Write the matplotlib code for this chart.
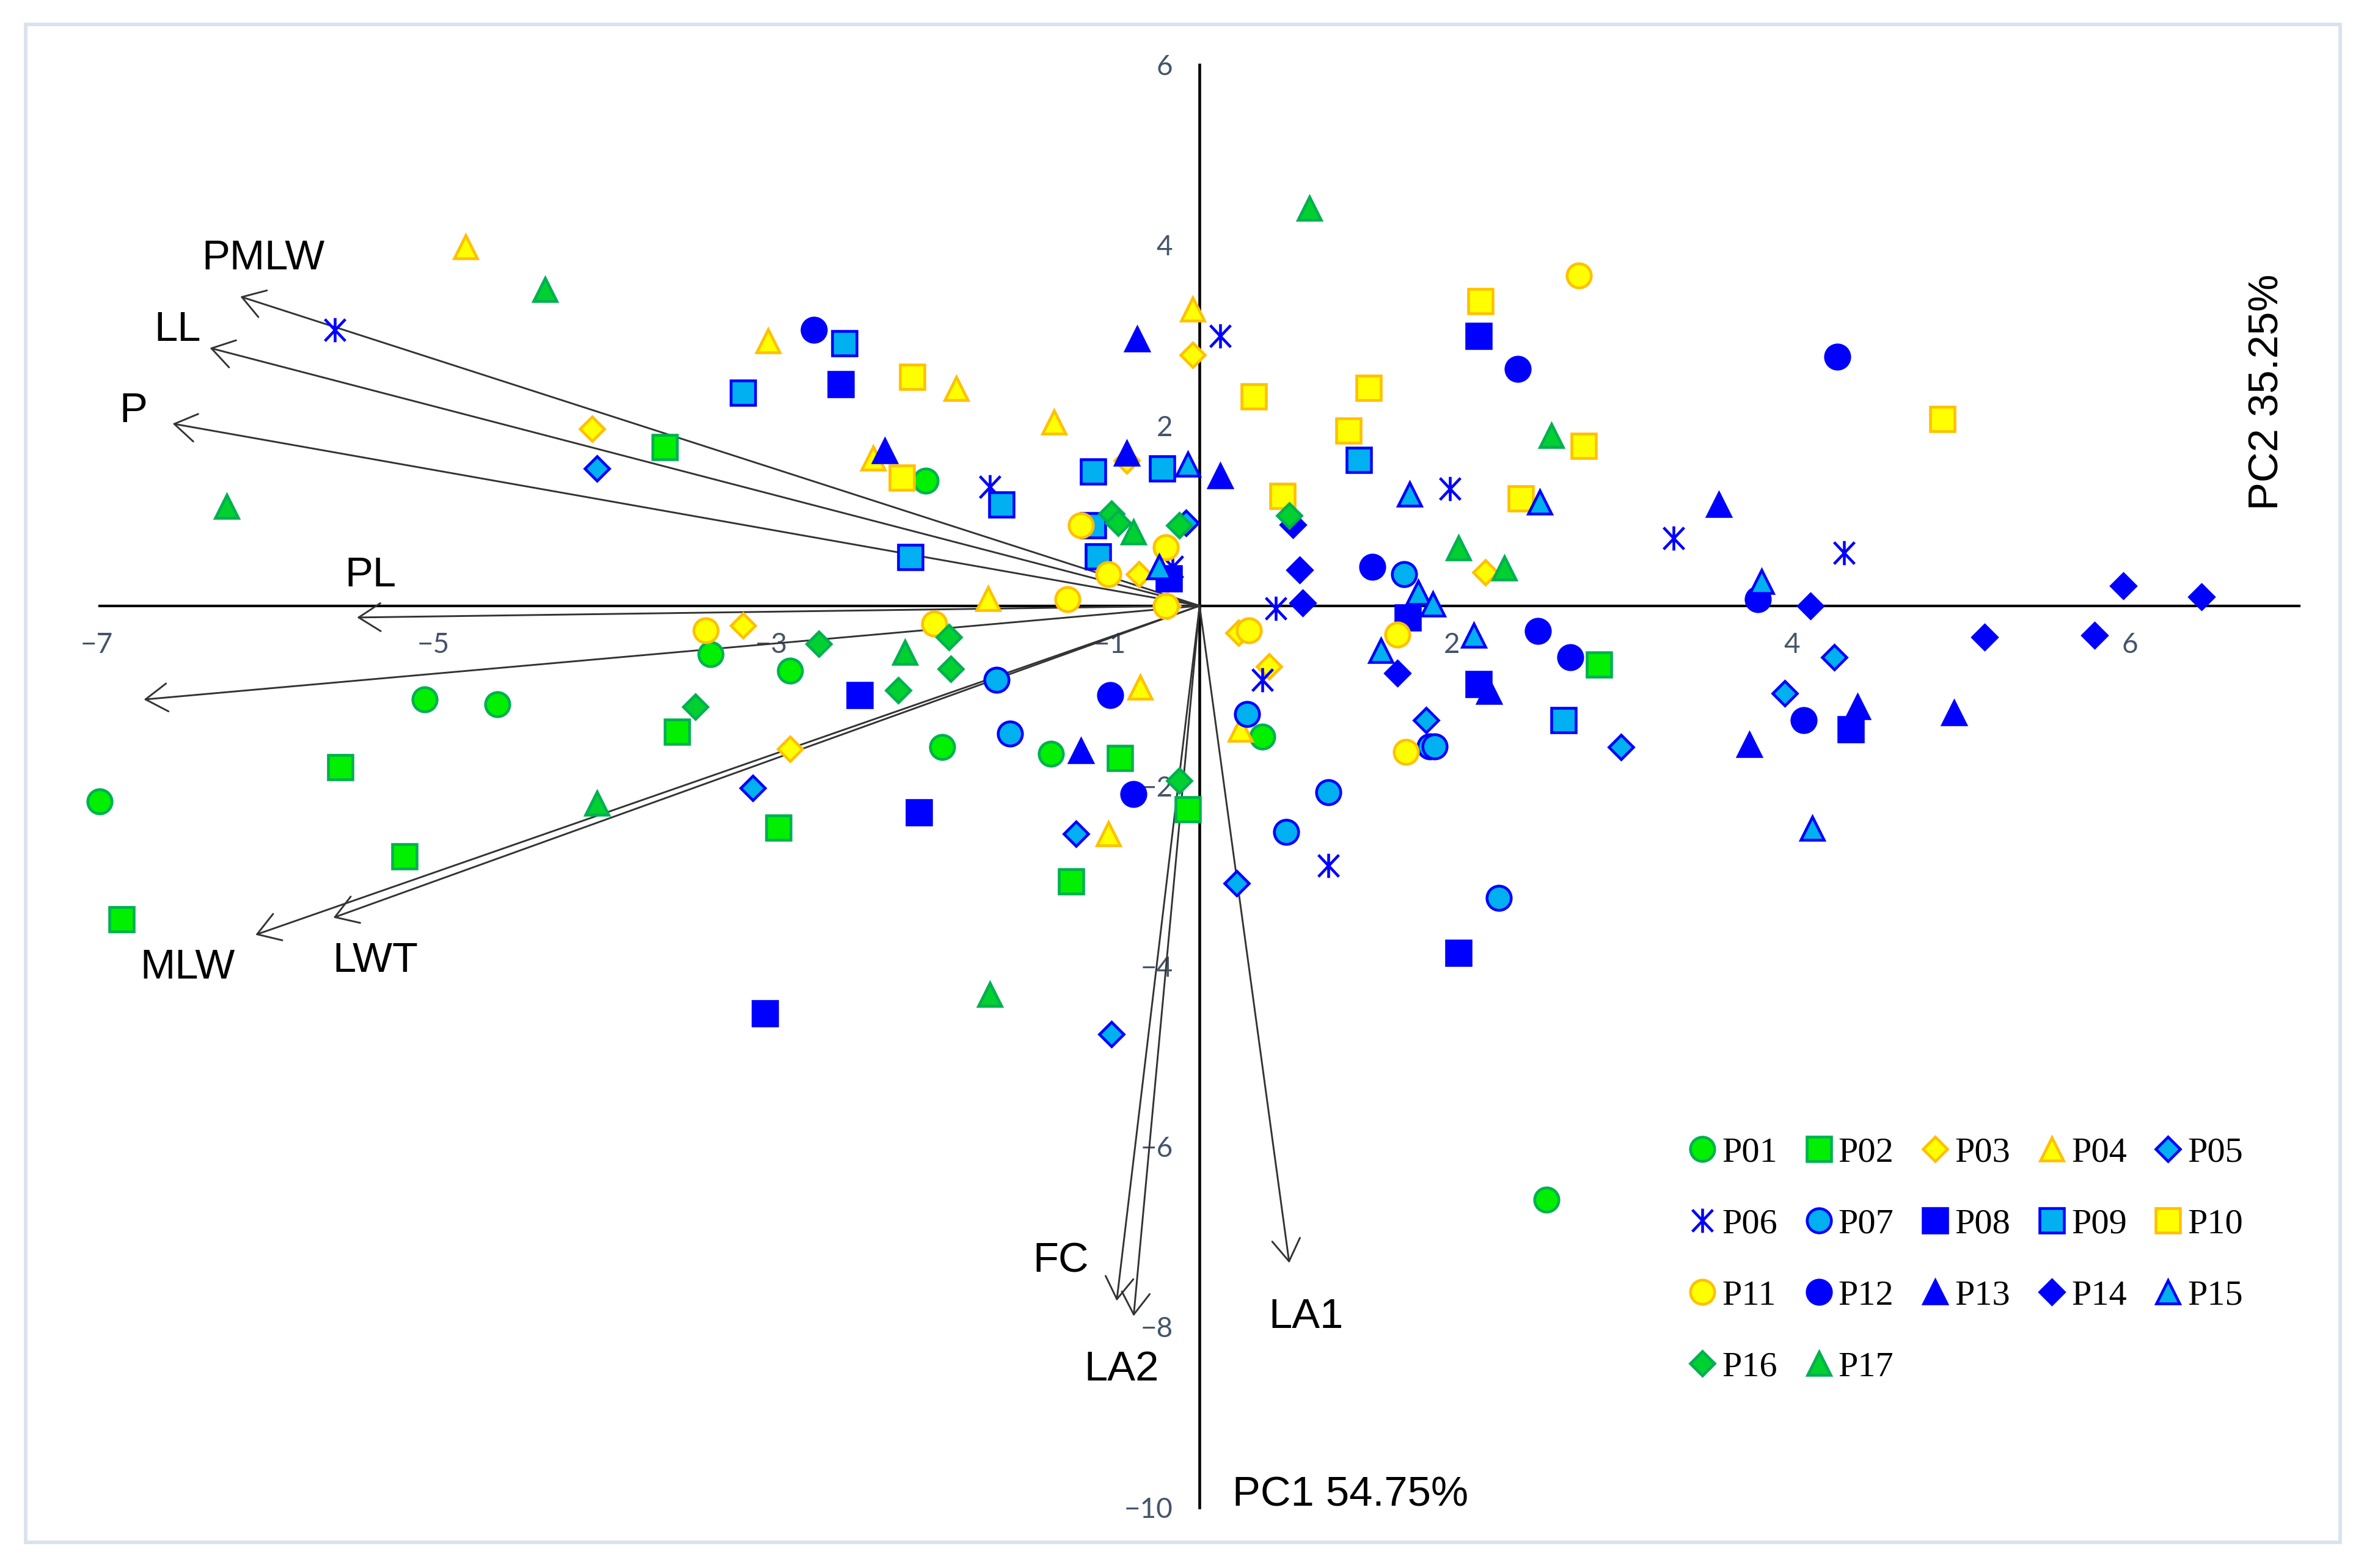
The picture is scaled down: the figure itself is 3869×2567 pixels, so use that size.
#!/usr/bin/env python3
import matplotlib

matplotlib.use("Agg")
import matplotlib.pyplot as plt
from matplotlib.patches import Rectangle
from matplotlib.path import Path

# scores, one x and one y list per group
P01_X = [-1.62, -4.58, -4.15, -6.50, -2.89, -2.42, -1.52, -0.88, 0.37, 2.05]
P01_Y = [1.39, -1.04, -1.09, -2.17, -0.54, -0.72, -1.57, -1.64, -1.45, -6.59]
P02_X = [-3.16, -5.08, -4.70, -6.37, -3.09, -2.49, -0.47, -0.07, -0.76, 2.36]
P02_Y = [1.76, -1.79, -2.78, -3.48, -1.40, -2.46, -1.69, -2.26, -3.06, -0.65]
P03_X = [-3.59, -0.04, -0.43, -0.36, -0.19, -2.70, -2.42, 0.23, 0.41, 1.69]
P03_Y = [1.96, 2.78, 1.61, 0.35, 0.00, -0.22, -1.59, -0.30, -0.67, 0.37]
P04_X = [-4.34, -2.55, -1.44, -0.86, -1.93, -0.04, -1.25, -0.35, 0.24, -0.54]
P04_Y = [3.98, 2.94, 2.41, 2.04, 1.64, 3.29, 0.08, -0.90, -1.37, -2.53]
P05_X = [-3.56, -0.08, -2.64, -0.73, 0.22, -0.52, 1.34, 2.49, 3.46, 3.75]
P05_Y = [1.52, 0.92, -2.02, -2.53, -3.08, -4.75, -1.27, -1.57, -0.97, -0.57]
P06_X = [-5.11, 0.12, -1.24, 1.48, 2.80, 3.81, 0.45, 0.37, 0.76, -0.16]
P06_Y = [3.06, 2.99, 1.32, 1.30, 0.75, 0.59, -0.03, -0.82, -2.88, 0.43]
P07_X = [-1.20, -1.12, 0.28, 0.51, 0.76, 1.21, 1.36, 1.39, 1.77]
P07_Y = [-0.82, -1.42, -1.20, -2.51, -2.07, 0.35, -1.56, -1.56, -3.24]
P08_X = [-2.12, -2.01, -1.66, -2.57, -0.18, 1.65, 1.23, 1.65, 1.53, 3.85]
P08_Y = [2.46, -0.99, -2.29, -4.52, 0.30, 2.99, -0.13, -0.87, -3.85, -1.37]
P09_X = [-2.70, -2.10, -0.63, -0.22, -1.17, -1.71, -0.63, -0.60, 0.94, 2.15]
P09_Y = [2.36, 2.91, 1.49, 1.52, 1.12, 0.54, 0.89, 0.55, 1.62, -1.27]
P10_X = [-1.70, -1.76, 0.32, 1.00, 0.88, 1.66, 2.27, 0.49, 1.90, 4.39]
P10_Y = [2.54, 1.42, 2.32, 2.42, 1.94, 3.38, 1.77, 1.22, 1.19, 2.07]
P11_X = [2.24, -0.70, -0.20, -0.54, -0.78, -1.57, -2.92, 0.29, 1.17, 1.22, -0.20]
P11_Y = [3.66, 0.89, 0.65, 0.35, 0.07, -0.20, -0.27, -0.27, -0.32, -1.62, 0.00]
P12_X = [-2.28, 1.88, 3.77, 1.02, 3.30, 2.00, 2.19, -0.53, -0.39, 3.57]
P12_Y = [3.06, 2.63, 2.76, 0.43, 0.07, -0.28, -0.57, -0.99, -2.09, -1.27]
P13_X = [-0.37, -1.86, -0.43, 0.12, 3.07, 3.25, 3.89, 4.46, -0.70, 1.71]
P13_Y = [2.96, 1.72, 1.69, 1.44, 1.12, -1.54, -1.12, -1.19, -1.61, -0.95]
P14_X = [0.55, 0.59, 0.61, 3.61, 5.46, 5.92, 4.64, 5.29, 1.17]
P14_Y = [0.90, 0.40, 0.03, 0.00, 0.22, 0.10, -0.35, -0.33, -0.75]
P15_X = [-0.07, 1.24, 2.01, 3.32, -0.24, 1.29, 1.38, 1.62, 1.07, 3.62]
P15_Y = [1.57, 1.24, 1.15, 0.27, 0.43, 0.15, 0.02, -0.33, -0.50, -2.47]
P16_X = [-0.52, -0.48, -0.12, 0.53, -2.25, -1.48, -1.47, -1.78, -2.98, -0.12]
P16_Y = [1.02, 0.92, 0.89, 1.00, -0.42, -0.35, -0.70, -0.94, -1.12, -1.94]
P17_X = [0.65, -3.87, -5.75, 2.08, 1.53, 1.80, -0.39, -1.74, -3.56, -1.24]
P17_Y = [4.41, 3.51, 1.10, 1.89, 0.64, 0.42, 0.82, -0.52, -2.19, -4.31]

GROUPS = [f"P{i:02d}" for i in range(1, 18)]
GROUP_X = [P01_X, P02_X, P03_X, P04_X, P05_X, P06_X, P07_X, P08_X, P09_X,
           P10_X, P11_X, P12_X, P13_X, P14_X, P15_X, P16_X, P17_X]
GROUP_Y = [P01_Y, P02_Y, P03_Y, P04_Y, P05_Y, P06_Y, P07_Y, P08_Y, P09_Y,
           P10_Y, P11_Y, P12_Y, P13_Y, P14_Y, P15_Y, P16_Y, P17_Y]

# loadings
LOAD_X = [-5.67, -5.85, -6.07, -4.98, -6.24, -5.58, -5.12, -0.49, -0.39, 0.53]
LOAD_Y = [3.43, 2.86, 2.02, -0.13, -1.04, -3.65, -3.46, -7.71, -7.88, -7.29]

# the x labels sit off the true positions in the original
XTICK_POS = [-6.52, -4.53, -2.53, -0.53, 1.49, 3.50, 5.50]
XTICK_LABELS = ["\u22127", "\u22125", "\u22123", "\u22121", "2", "4", "6"]
YTICKS = [-10, -8, -6, -4, -2, 0, 2, 4, 6]
YTICK_LABELS = ["\u221210", "\u22128", "\u22126", "\u22124", "\u22122", "0", "2", "4", "6"]

# vertical bar plus a wide X, the 6-spoke builtin is too narrow
STAR = Path([(0, -1), (0, 1), (-0.85, -0.9), (0.85, 0.9), (-0.85, 0.9), (0.85, -0.9)],
            [Path.MOVETO, Path.LINETO, Path.MOVETO, Path.LINETO, Path.MOVETO, Path.LINETO])

GREEN = ("#00F000", "#00B050")
GREEN_DARK = ("#00D030", "#00B050")
YELLOW = ("#FFFF00", "#FFC000")
CYAN = ("#00B0F0", "#0000FF")
BLUE = ("#0000FF", "#0000FF")
MARKERS = ["o", "s", "D", "^", "D", STAR, "o", "s", "s", "s", "o", "o", "^", "D", "^", "D", "^"]
COLORS = [GREEN, GREEN, YELLOW, YELLOW, CYAN, BLUE, CYAN, BLUE, CYAN, YELLOW,
          YELLOW, BLUE, BLUE, BLUE, CYAN, GREEN_DARK, GREEN_DARK]
SIZES = {"o": 9.5, "s": 9.5, "D": 6.7, "^": 9.0}


def main() -> None:
    fig = plt.figure(figsize=(3869 / 300, 2567 / 300), dpi=300)
    ax = fig.add_axes([0, 0, 1, 1])
    ax.set_xlim(-7.09, 6.882)
    ax.set_ylim(-10.673, 6.719)
    ax.patch.set_visible(False)

    fig.add_artist(Rectangle((0.0108, 0.0163), 0.979, 0.9683, transform=fig.transFigure,
                             facecolor="white", edgecolor="#D9E2EE", linewidth=1.4, zorder=-5))

    for side in ["top", "right"]:
        ax.spines[side].set_visible(False)
    ax.spines["left"].set_position("zero")
    ax.spines["bottom"].set_position("zero")
    ax.spines["left"].set_bounds(-10, 6)
    ax.spines["bottom"].set_bounds(-6.5, 6.5)
    ax.spines["left"].set_linewidth(1.1)
    ax.spines["bottom"].set_linewidth(1.0)

    ax.set_xticks(XTICK_POS, XTICK_LABELS)
    ax.set_yticks(YTICKS, YTICK_LABELS)
    ax.tick_params(axis="x", length=0, pad=10.5, zorder=5)
    ax.tick_params(axis="y", length=0, pad=10.5, zorder=5)
    for label in ax.get_xticklabels() + ax.get_yticklabels():
        label.set_fontfamily("Lato")
        label.set_fontsize(11)
        label.set_color("#44546A")

    for x, y in zip(LOAD_X, LOAD_Y):
        ax.annotate("", xy=(x, y), xytext=(0, 0), zorder=2.6,
                    arrowprops=dict(arrowstyle="->,head_length=0.86,head_width=0.55",
                                    color="#333333", lw=0.7, shrinkA=0, shrinkB=0,
                                    mutation_scale=10))

    handles = []
    for name, xs, ys, marker, (face, edge) in zip(GROUPS, GROUP_X, GROUP_Y, MARKERS, COLORS):
        size = SIZES.get(marker, 9.5) if isinstance(marker, str) else 9.5
        line, = ax.plot(xs, ys, linestyle="none", marker=marker, markersize=size,
                        markerfacecolor=face, markeredgecolor=edge, markeredgewidth=1.1,
                        label=name, zorder=3, clip_on=False)
        handles.append(line)

    label_font = dict(family="Liberation Sans", fontsize=16.5, color="black",
                      ha="center", va="center", zorder=5)
    ax.text(-5.535, 3.85, "PMLW", **label_font)
    ax.text(-6.04, 3.06, "LL", **label_font)
    ax.text(-6.30, 2.16, "P", **label_font)
    ax.text(-4.90, 0.34, "PL", **label_font)
    ax.text(-5.98, -4.01, "MLW", **label_font)
    ax.text(-4.87, -3.94, "LWT", **label_font)
    ax.text(-0.82, -7.27, "FC", **label_font)
    ax.text(-0.46, -8.47, "LA2", **label_font)
    ax.text(0.63, -7.89, "LA1", **label_font)
    ax.text(0.89, -9.86, "PC1 54.75%", **label_font)
    ax.text(6.31, 2.37, "PC2 35.25%", rotation=90, **label_font)

    # legend fills by column, so hand it the rows column by column
    ordered = [h for c in range(5) for h in handles[c::5]]
    ax.legend(ordered, [h.get_label() for h in ordered], ncol=5, frameon=False, numpoints=1,
              loc="lower left", bbox_to_anchor=(0.7126, 0.1177), borderpad=0, borderaxespad=0,
              handlelength=1.0, handletextpad=0.05, columnspacing=0.66, labelspacing=1.1,
              prop={"family": "Liberation Serif", "size": 14})

    fig.savefig("out.png", dpi=300, facecolor="white")
    plt.close(fig)


if __name__ == "__main__":
    main()
